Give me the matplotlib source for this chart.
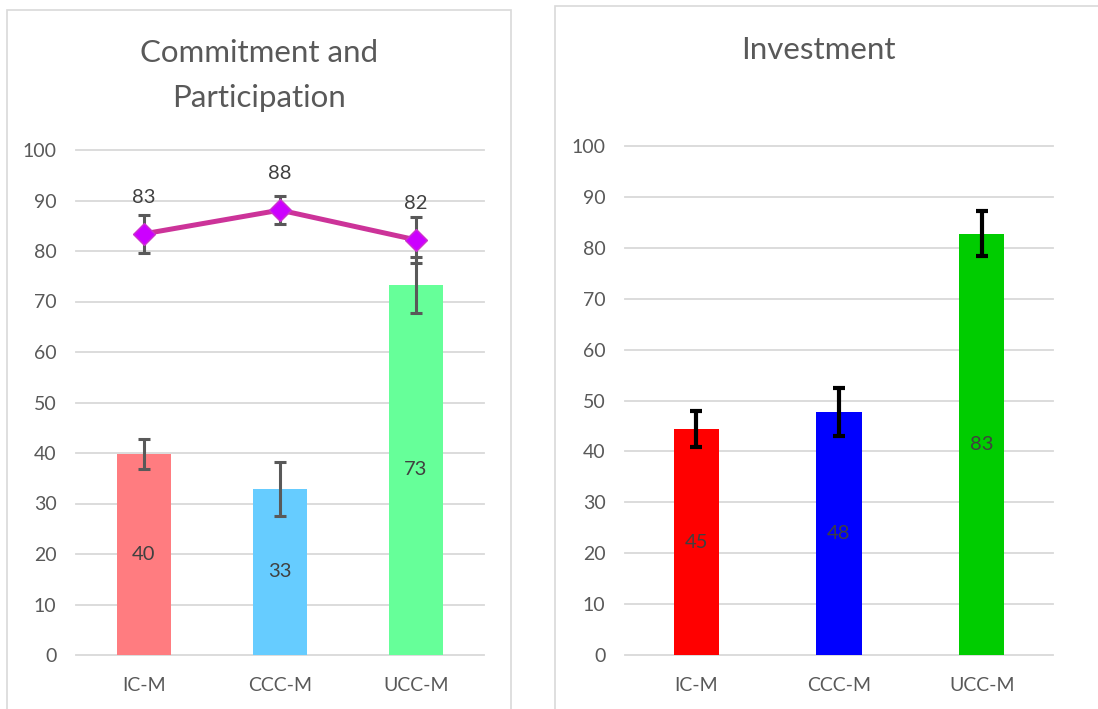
import matplotlib.pyplot as plt
from matplotlib.patches import Rectangle
import numpy as np

plt.rcParams['font.family'] = ['Lato', 'DejaVu Sans']

# data
groups = ['IC-M', 'CCC-M', 'UCC-M']

# left panel: bars + line
commit_bars = [39.8, 32.9, 73.3]
commit_bar_err = [3.0, 5.3, 5.5]
commit_bar_labels = ['40', '33', '73']
commit_bar_colors = ['#ff7c80', '#66ccff', '#66ff99']

particip_line = [83.4, 88.1, 82.2]
particip_err = [3.7, 2.8, 4.5]
particip_labels = ['83', '88', '82']

# right panel
invest_bars = [44.4, 47.8, 82.8]
invest_err = [3.6, 4.7, 4.4]
invest_labels = ['45', '48', '83']
invest_colors = ['#ff0000', '#0000ff', '#00cc00']

grid_c = '#d9d9d9'
txt_c = '#595959'
lbl_c = '#404040'

fig = plt.figure(figsize=[10.98, 7.09], dpi=100)

# panel frames
fig.patches.append(Rectangle((7/1098, -0.02), 504/1098, 1.02 - 10/709, transform=fig.transFigure,
                             fill=False, edgecolor=grid_c, lw=1.2))
fig.patches.append(Rectangle((555/1098, -0.02), 0.6, 1.02 - 6/709, transform=fig.transFigure,
                             fill=False, edgecolor=grid_c, lw=1.2))


def style_axis(ax):
    ax.set_ylim(0, 100)
    ax.set_xlim(-0.5, 2.5)
    ax.set_yticks(np.arange(0, 101, 10))
    for v in np.arange(0, 101, 10):
        ax.axhline(v, color=grid_c, lw=1.3, zorder=0, clip_on=False)
    for s in ax.spines.values():
        s.set_visible(False)
    ax.set_xticks(range(len(groups)))
    ax.set_xticklabels(groups)
    ax.tick_params(axis='both', length=0, labelsize=14, labelcolor=txt_c)
    ax.tick_params(axis='y', pad=14)
    ax.tick_params(axis='x', pad=16)


x = np.arange(len(groups))

# ---- left panel
ax1 = fig.add_axes([76/1098, 1 - 655/709, 408/1098, 505/709])
style_axis(ax1)
ax1.bar(x, commit_bars, width=0.40, color=commit_bar_colors, zorder=2)
ax1.errorbar(x, commit_bars, yerr=commit_bar_err, fmt='none', ecolor='#595959',
             elinewidth=2.2, capsize=4, capthick=2.2, zorder=3)
for xi, v, t in zip(x, commit_bars, commit_bar_labels):
    ax1.text(xi, v / 2, t, ha='center', va='center', fontsize=14.5, color=lbl_c, zorder=5)

ax1.errorbar(x, particip_line, yerr=particip_err, fmt='none', ecolor='#595959',
             elinewidth=2.2, capsize=4, capthick=2.2, zorder=4)
ax1.plot(x, particip_line, color='#cc3399', lw=3.6, zorder=5,
         marker='D', markersize=11.5, markerfacecolor='#cc00ff', markeredgecolor='#cc33cc')
for xi, v, t in zip(x, particip_line, particip_labels):
    ax1.annotate(t, (xi, v), xytext=(0, 26.5), textcoords='offset points',
                 ha='center', va='center', fontsize=14.5, color=lbl_c, zorder=6)

fig.text(259/1098, 1 - 53/709, 'Commitment and', ha='center', va='center', fontsize=22.5, color=txt_c)
fig.text(259/1098, 1 - 98/709, 'Participation', ha='center', va='center', fontsize=22.5, color=txt_c)

# ---- right panel
ax2 = fig.add_axes([625/1098, 1 - 655/709, 428/1098, 509/709])
style_axis(ax2)
ax2.bar(x, invest_bars, width=0.32, color=invest_colors, zorder=2)
ax2.errorbar(x, invest_bars, yerr=invest_err, fmt='none', ecolor='black',
             elinewidth=3, capsize=4, capthick=3, zorder=3)
for xi, v, t in zip(x, invest_bars, invest_labels):
    ax2.text(xi, v / 2, t, ha='center', va='center', fontsize=14.5, color=lbl_c, zorder=5)

fig.text(818/1098, 1 - 50/709, 'Investment', ha='center', va='center', fontsize=22.5, color=txt_c)

fig.savefig('out.png', dpi=100)
